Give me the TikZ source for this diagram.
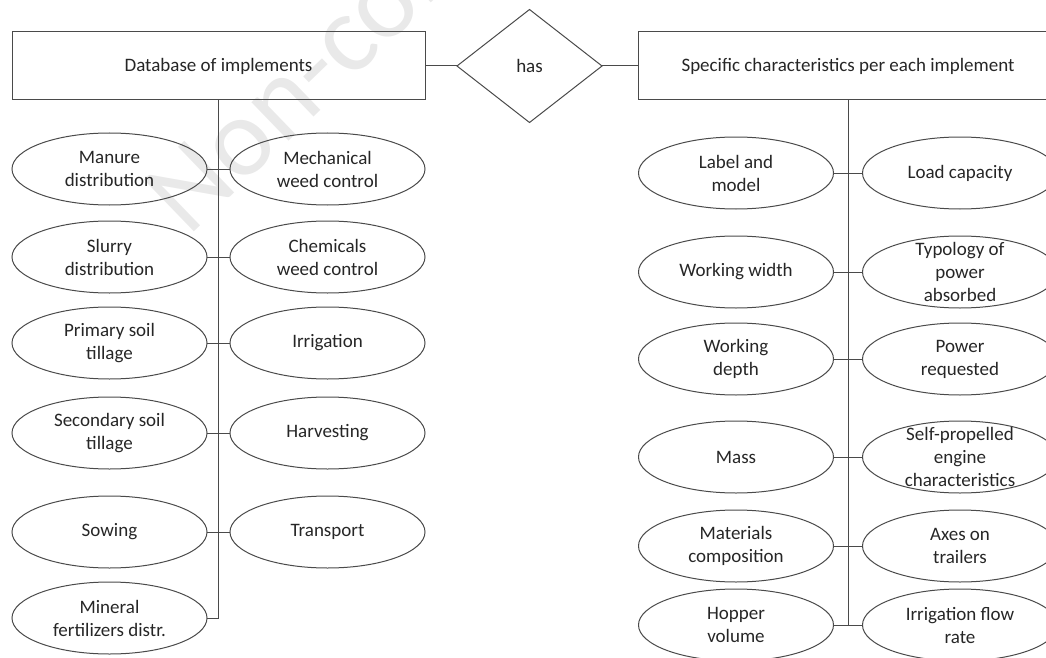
\documentclass[tikz,border=0pt]{standalone}
\usepackage{fontspec}
\setmainfont{Carlito}
\usepackage{tikz}
\usetikzlibrary{shapes.geometric}
\definecolor{linec}{HTML}{4A4A4A}
\definecolor{textc}{HTML}{262626}
\newcommand*\attrfont{\fontsize{19}{23}\selectfont}
\tikzset{
    entity/.style   = {draw=linec, line width=1pt, rectangle,
                    minimum height=68pt, inner sep=0pt, outer sep=0pt,
                    font=\attrfont, text=textc},
    relation/.style = {draw=linec, line width=1pt, diamond,
                    minimum width=145pt, minimum height=113pt,
                    inner sep=0pt, outer sep=0pt, font=\attrfont, text=textc},
    attrtext/.style = {align=center, font=\attrfont, text=textc},
    attr/.style     = {draw=linec, line width=1pt, ellipse,
                    minimum width=195pt, minimum height=72pt,
                    inner sep=0pt, outer sep=0pt,
                    label={[attrtext]center:#1}},
    link/.style     = {draw=linec, line width=1pt},
    watermark/.style= {text=gray!17, font=\fontsize{112}{112}\selectfont},
  }
\begin{document}
\begin{tikzpicture}[x=1pt, y=-1pt]
    \useasboundingbox (0,0) rectangle (1046,658);
    \clip (0,0) rectangle (1046,658);

    % faint watermark behind the diagram
    \node[watermark, rotate=44, anchor=base west] (wm) at (186,240) {Non-commercial};

    % Entities and relation
    \node[entity, minimum width=413pt] (dbase) at (218.5,66) {Database of implements};
    \node[relation] (has) at (529.5,66) {has};
    \node[entity, minimum width=420pt] (spec) at (848,66) {Specific characteristics per each implement};
    \draw[link] (dbase.east) -- (has.west);
    \draw[link] (has.east) -- (spec.west);

    % Implements: two columns of ellipses
    \foreach \txt/\y [count=\i from 1] in {{Manure\\distribution}/169, {Slurry\\distribution}/257,
        {Primary soil\\tillage}/343, {Secondary soil\\tillage}/433, {Sowing}/532,
        {Mineral\\fertilizers distr.}/618} {
        \node[attr=\txt] (impA\i) at (109.5,\y) {};
    }
    \foreach \txt/\y [count=\i from 1] in {{Mechanical\\weed control}/169, {Chemicals\\weed control}/257,
        {Irrigation}/343, {Harvesting}/433, {Transport}/532} {
        \node[attr=\txt] (impB\i) at (327.5,\y) {};
        \draw[link] (impA\i.east) -- (impB\i.west);
    }
    \draw[link] (dbase.south) -- (dbase.south |- impA6.east) -- (impA6.east);

    % Characteristics: two columns of ellipses
    \foreach \txt/\y [count=\i from 1] in {{Label and\\model}/173, {Working width}/272,
        {Working\\depth}/359, {Mass}/457, {Materials\\composition}/546,
        {Hopper\\volume}/625} {
        \node[attr=\txt] (charA\i) at (736,\y) {};
    }
    \foreach \txt/\y [count=\i from 1] in {{Load capacity}/173, {Typology of\\power\\absorbed}/272,
        {Power\\requested}/359, {Self-propelled\\engine\\characteristics}/457,
        {Axes on\\trailers}/546, {Irrigation flow\\rate}/625} {
        \node[attr=\txt] (charB\i) at (960,\y) {};
        \draw[link] (charA\i.east) -- (charB\i.west);
    }
    \draw[link] (spec.south) -- (spec.south |- charA6.east);
\end{tikzpicture}
\end{document}
